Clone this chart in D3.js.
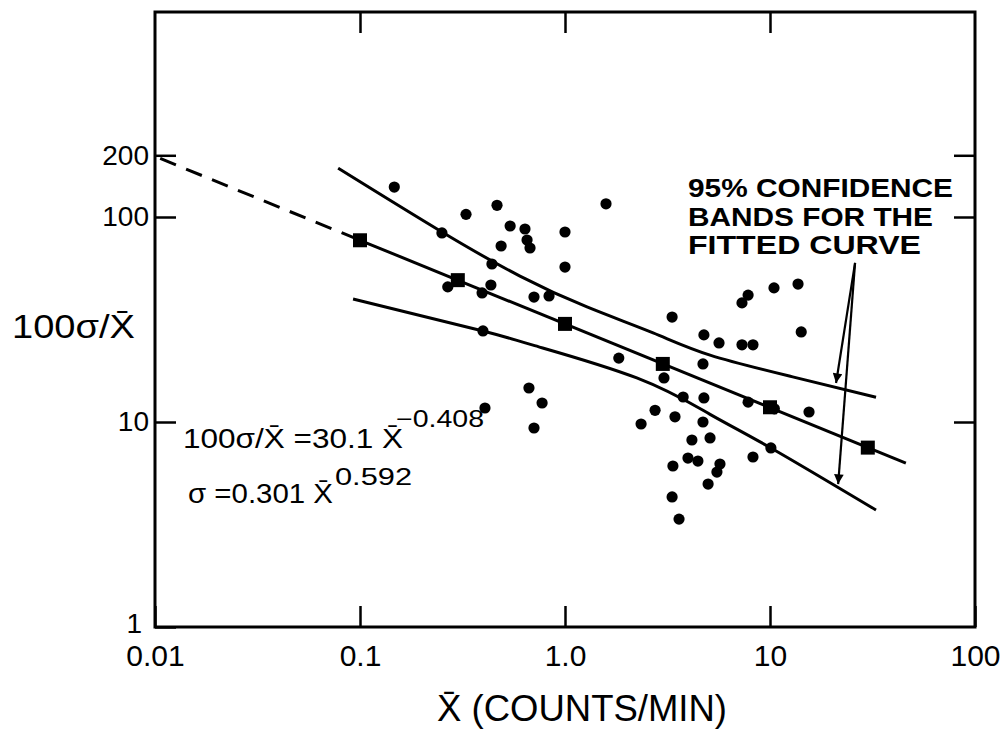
<!DOCTYPE html>
<html>
<head>
<meta charset="utf-8">
<script src="https://cdn.jsdelivr.net/npm/d3@7"></script>
<style>
  body { margin: 0; background: #fff; }
  svg { display: block; font-family: "Liberation Sans", Arial, sans-serif; }
</style>
</head>
<body>
<div class="container"></div>
<script>
/* tick values and their printed labels */
const xTickValues = [0.01, 0.1, 1, 10, 100];
const xTickLabels = ["0.01", "0.1", "1.0", "10", "100"];
const yTickValues = [1, 10, 100, 200];
const yTickLabels = ["1", "10", "100", "200"];

/* measured points: mean count rate vs. 100*sigma/mean */
const pointsX = [0.147, 0.329, 0.466, 0.540, 0.638, 0.653, 0.675, 0.488, 1.00, 1.585,
                 1.00, 0.251, 0.440, 0.435, 0.394, 0.268, 0.398, 0.706, 0.836, 3.33,
                 4.76, 5.64, 7.30, 8.26, 7.82, 7.30, 10.46, 13.7, 14.2, 1.83,
                 3.04, 4.71, 0.667, 0.773, 0.706, 0.407, 2.35, 2.75, 3.77, 3.44,
                 4.76, 4.71, 4.16, 5.10, 3.98, 4.45, 3.36, 5.70, 5.51, 4.99,
                 3.33, 3.60, 7.82, 15.5, 8.26, 10.1, 10.5];
const pointsY = [140, 103, 114, 90.4, 87.4, 77.2, 70.6, 72.2, 84.5, 116,
                 57.0, 83.6, 59.0, 46.6, 42.6, 45.6, 27.8, 40.7, 41.2, 32.5,
                 26.6, 24.3, 23.8, 23.8, 41.6, 38.1, 45.1, 47.1, 27.5, 20.5,
                 16.4, 19.2, 14.65, 12.38, 9.35, 11.7, 9.78, 11.4, 13.24, 10.6,
                 13.1, 10.0, 8.17, 8.36, 6.67, 6.45, 6.10, 6.24, 5.70, 4.98,
                 4.31, 3.36, 12.5, 11.19, 6.75, 7.47, 11.6];

/* fitted curve: dashed extrapolation, then solid part */
const fitX = [0.0106, 0.1, 46];
const fitY = [193, 77.0, 6.3];

/* squares on the fitted curve */
const squareX = [0.1, 0.3, 1.0, 3.0, 10, 30];
const squareY = [77.0, 49.2, 30.1, 19.2, 11.8, 7.5];

/* 95% confidence bands */
const upperX = [0.0782, 0.251, 0.603, 1.28, 2.69, 5.10, 12.9, 32.9];
const upperY = [173, 84.5, 51.5, 36.4, 27.2, 21.2, 16.6, 13.2];
const lowerX = [0.0925, 0.398, 0.698, 2.24, 5.10, 10.1, 32.9];
const lowerY = [39.8, 27.8, 23.7, 16.4, 10.9, 7.47, 3.72];

const drawChart = () => {
    const w = 1002;
    const h = 731;

    /* plot frame edges */
    const left = 155, right = 975, top = 12, bottom = 627;
    const tickLen = 21;

    const xScale = d3.scaleLog()
                     .domain([0.01, 100])
                     .range([left, right]);
    const yScale = d3.scaleLog()
                     .domain([1, 1000])
                     .range([bottom, top]);

    const svg = d3.select(".container")
                  .append("svg")
                  .attr("width", w)
                  .attr("height", h);

    svg.append("defs")
       .append("marker")
       .attr("id", "arrow")
       .attr("viewBox", "0 0 10 10")
       .attr("refX", 10)
       .attr("refY", 5)
       .attr("markerWidth", 7)
       .attr("markerHeight", 4.4)
       .attr("markerUnits", "strokeWidth")
       .attr("orient", "auto")
       .append("path")
       .attr("d", "M0,0 L10,5 L0,10 Z")
       .attr("fill", "#000");

    /* frame */
    svg.append("rect")
       .attr("x", left)
       .attr("y", top)
       .attr("width", right - left)
       .attr("height", bottom - top)
       .attr("fill", "none")
       .attr("stroke", "#000")
       .attr("stroke-width", 3);

    /* axes, ticks pointing inward */
    const styleAxis = (g, size) => {
        g.select(".domain").remove();
        g.selectAll(".tick line").attr("stroke", "#000").attr("stroke-width", 2.5);
        g.selectAll(".tick text")
         .attr("fill", "#000")
         .style("font-family", "'Liberation Sans', sans-serif")
         .style("font-size", size + "px");
    };

    svg.append("g")
       .attr("transform", "translate(0," + bottom + ")")
       .call(d3.axisBottom(xScale)
               .tickValues(xTickValues)
               .tickSize(-tickLen)
               .tickPadding(18)
               .tickFormat((d) => xTickLabels[xTickValues.indexOf(d)]))
       .call((g) => styleAxis(g, 30));

    svg.append("g")
       .attr("transform", "translate(" + left + ",0)")
       .call(d3.axisLeft(yScale)
               .tickValues(yTickValues)
               .tickSize(-tickLen)
               .tickPadding(6)
               .tickFormat((d) => yTickLabels[yTickValues.indexOf(d)]))
       .call((g) => styleAxis(g, 28))
       .call((g) => g.selectAll(".tick text")
                     .filter((d) => d === 1)
                     .attr("x", -13)
                     .attr("dy", "0.2em"));

    svg.append("g")
       .attr("transform", "translate(0," + top + ")")
       .call(d3.axisTop(xScale)
               .tickValues(xTickValues.slice(1, 4))
               .tickSize(-tickLen)
               .tickFormat(""))
       .call((g) => styleAxis(g, 10));

    svg.append("g")
       .attr("transform", "translate(" + right + ",0)")
       .call(d3.axisRight(yScale)
               .tickValues(yTickValues.slice(1))
               .tickSize(-tickLen)
               .tickFormat(""))
       .call((g) => styleAxis(g, 10));

    const line = d3.line()
                   .x((d) => xScale(d[0]))
                   .y((d) => yScale(d[1]));
    const curve = d3.line()
                    .x((d) => xScale(d[0]))
                    .y((d) => yScale(d[1]))
                    .curve(d3.curveNatural);

    /* fitted curve */
    svg.append("path")
       .attr("d", line([[fitX[0], fitY[0]], [fitX[1], fitY[1]]]))
       .attr("fill", "none")
       .attr("stroke", "#000")
       .attr("stroke-width", 3)
       .attr("stroke-dasharray", "17,11");
    svg.append("path")
       .attr("d", line([[fitX[1], fitY[1]], [fitX[2], fitY[2]]]))
       .attr("fill", "none")
       .attr("stroke", "#000")
       .attr("stroke-width", 3);

    /* confidence bands */
    svg.append("path")
       .attr("d", curve(upperX.map((x, i) => [x, upperY[i]])))
       .attr("fill", "none")
       .attr("stroke", "#000")
       .attr("stroke-width", 3);
    svg.append("path")
       .attr("d", curve(lowerX.map((x, i) => [x, lowerY[i]])))
       .attr("fill", "none")
       .attr("stroke", "#000")
       .attr("stroke-width", 3);

    /* data points */
    svg.selectAll("circle.dot")
       .data(pointsX.map((x, i) => [x, pointsY[i]]))
       .enter()
       .append("circle")
       .attr("class", "dot")
       .attr("cx", (d) => xScale(d[0]))
       .attr("cy", (d) => yScale(d[1]))
       .attr("r", 5.6)
       .attr("fill", "#000");

    /* squares on the fitted curve */
    svg.selectAll("rect.sq")
       .data(squareX.map((x, i) => [x, squareY[i]]))
       .enter()
       .append("rect")
       .attr("class", "sq")
       .attr("x", (d) => xScale(d[0]) - 7)
       .attr("y", (d) => yScale(d[1]) - 7)
       .attr("width", 14)
       .attr("height", 14)
       .attr("fill", "#000");

    /* axis titles */
    svg.append("text")
       .text("100σ/X\u0304")
       .attr("x", 12)
       .attr("y", 338)
       .attr("font-size", 33)
       .attr("textLength", 123)
       .attr("lengthAdjust", "spacingAndGlyphs");

    svg.append("text")
       .text("X\u0304 (COUNTS/MIN)")
       .attr("x", 437)
       .attr("y", 721)
       .attr("font-size", 36)
       .attr("textLength", 290)
       .attr("lengthAdjust", "spacingAndGlyphs");

    /* fitted equations */
    svg.append("text")
       .text("100σ/X\u0304 =30.1 X\u0304")
       .attr("x", 183)
       .attr("y", 448)
       .attr("font-size", 28)
       .attr("textLength", 220)
       .attr("lengthAdjust", "spacingAndGlyphs");
    svg.append("text")
       .text("\u22120.408")
       .attr("x", 396)
       .attr("y", 427)
       .attr("font-size", 23)
       .attr("textLength", 88)
       .attr("lengthAdjust", "spacingAndGlyphs");

    svg.append("text")
       .text("σ =0.301 X\u0304")
       .attr("x", 188)
       .attr("y", 503)
       .attr("font-size", 28)
       .attr("textLength", 145)
       .attr("lengthAdjust", "spacingAndGlyphs");
    svg.append("text")
       .text("0.592")
       .attr("x", 335)
       .attr("y", 485)
       .attr("font-size", 23)
       .attr("textLength", 77)
       .attr("lengthAdjust", "spacingAndGlyphs");

    /* annotation for the bands */
    const note = ["95% CONFIDENCE", "BANDS FOR THE", "FITTED CURVE"];
    const noteLen = [265, 245, 233];
    svg.selectAll("text.note")
       .data(note)
       .enter()
       .append("text")
       .attr("class", "note")
       .text((d) => d)
       .attr("x", 688)
       .attr("y", (d, i) => 197 + i * 28.5)
       .attr("font-size", 26)
       .attr("font-weight", "bold")
       .attr("textLength", (d, i) => noteLen[i])
       .attr("lengthAdjust", "spacingAndGlyphs");

    const arrowFrom = [26.0, 59.7];
    const arrowTo = [[21.0, 15.5], [21.5, 4.98]];
    svg.selectAll("line.arrow")
       .data(arrowTo)
       .enter()
       .append("line")
       .attr("class", "arrow")
       .attr("x1", xScale(arrowFrom[0]))
       .attr("y1", yScale(arrowFrom[1]))
       .attr("x2", (d) => xScale(d[0]))
       .attr("y2", (d) => yScale(d[1]))
       .attr("stroke", "#000")
       .attr("stroke-width", 2.2)
       .attr("marker-end", "url(#arrow)");
};

drawChart();
</script>
</body>
</html>
